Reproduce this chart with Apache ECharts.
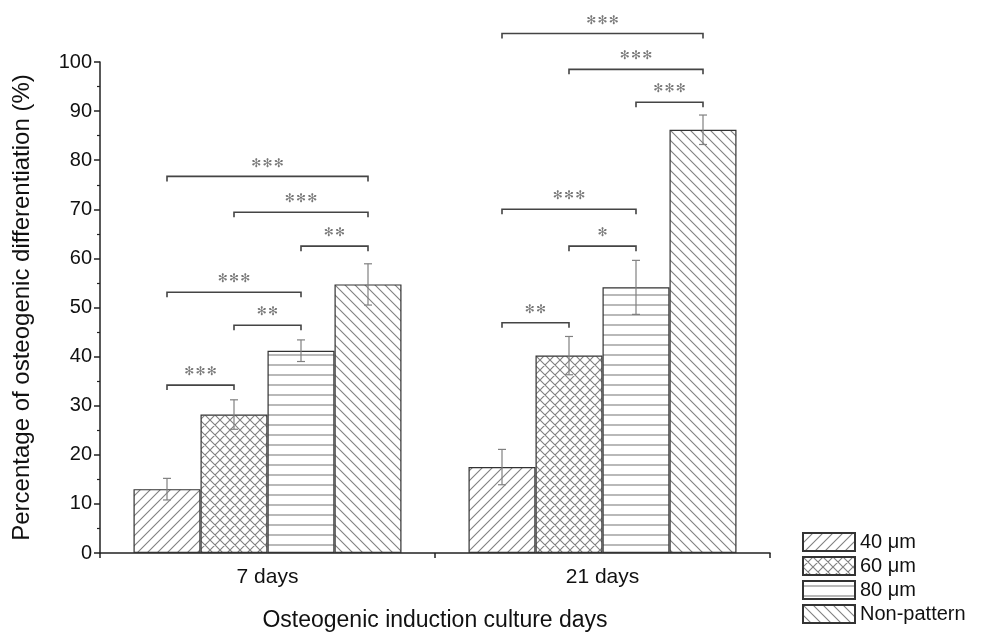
<!DOCTYPE html>
<html>
<head>
<meta charset="utf-8">
<script src="https://cdn.jsdelivr.net/npm/echarts@6/dist/echarts.min.js"></script>
<style>
  html, body { margin: 0; padding: 0; background: #fff; }
  #chart { width: 986px; height: 637px; }
</style>
</head>
<body>
<div id="chart"></div>
<script>
// Culture durations on the x axis
const categories = ['7 days', '21 days'];
// Pattern sizes (one bar series each)
const seriesNames = ['40 μm', '60 μm', '80 μm', 'Non-pattern'];
// Mean percentage per pattern, ordered as categories
const mean40 = [13.0, 17.5];
const mean60 = [28.2, 40.2];
const mean80 = [41.2, 54.1];
const meanNon = [54.7, 86.2];
// Standard deviations (error bar half-lengths)
const err40 = [2.2, 3.6];
const err60 = [3.0, 3.9];
const err80 = [2.2, 5.5];
const errNon = [4.2, 3.0];
// Significance comparisons: [category, first series, second series, bracket height, stars]
const brackets = [
  [0, 0, 1, 34.2, '***'],
  [0, 1, 2, 46.4, '**'],
  [0, 0, 2, 53.1, '***'],
  [0, 2, 3, 62.5, '**'],
  [0, 1, 3, 69.4, '***'],
  [0, 0, 3, 76.7, '***'],
  [1, 0, 1, 46.9, '**'],
  [1, 1, 2, 62.5, '*'],
  [1, 0, 2, 70.0, '***'],
  [1, 2, 3, 91.8, '***'],
  [1, 1, 3, 98.5, '***'],
  [1, 0, 3, 105.8, '***']
];
// Axis ticks
const yMin = 0, yMax = 100, yStep = 10;

const means = [mean40, mean60, mean80, meanNon];
const errs = [err40, err60, err80, errNon];

// Hatch fill tiles
function hatch(kind) {
  const s = 10;
  const c = document.createElement('canvas');
  c.width = s; c.height = s;
  const g = c.getContext('2d');
  g.fillStyle = '#fff';
  g.fillRect(0, 0, s, s);
  g.strokeStyle = '#808080';
  g.lineWidth = 1.1;
  g.beginPath();
  const fwd = () => {
    g.moveTo(-s, s * 2); g.lineTo(s * 2, -s);
    g.moveTo(-s, s); g.lineTo(s, -s);
    g.moveTo(0, s * 2); g.lineTo(s * 2, 0);
  };
  const back = () => {
    g.moveTo(-s, -s); g.lineTo(s * 2, s * 2);
    g.moveTo(-s, 0); g.lineTo(s, s * 2);
    g.moveTo(0, -s); g.lineTo(s * 2, s);
  };
  if (kind === 'fwd') fwd();
  if (kind === 'back') back();
  if (kind === 'cross') { fwd(); back(); }
  if (kind === 'horiz') { g.moveTo(0, s / 2); g.lineTo(s, s / 2); }
  g.stroke();
  return { image: c, repeat: 'repeat' };
}
const fills = [hatch('fwd'), hatch('cross'), hatch('horiz'), hatch('back')];

const nSeries = seriesNames.length;
const catGap = 0.2;

function barX(api, cat, s) {
  const center = api.coord([cat, 0])[0];
  const band = api.size([1, 0])[0];
  const bw = band * (1 - catGap) / nSeries;
  return center + (s - (nSeries - 1) / 2) * bw;
}

const errData = [];
means.forEach((arr, s) => arr.forEach((m, c) => errData.push([c, m, errs[s][c], s])));

const font = "'Liberation Sans', Arial, sans-serif";

const barSeries = seriesNames.map((name, s) => ({
  name: name,
  type: 'bar',
  data: means[s],
  barGap: '0%',
  barCategoryGap: (catGap * 100) + '%',
  itemStyle: { color: fills[s], borderColor: '#333', borderWidth: 1.2 },
  emphasis: { disabled: true },
  animation: false
}));

const errorSeries = {
  type: 'custom',
  data: errData,
  encode: { x: 0, y: 1 },
  z: 5,
  silent: true,
  animation: false,
  renderItem: function (params, api) {
    const c = api.value(0), m = api.value(1), e = api.value(2), s = api.value(3);
    const x = barX(api, c, s);
    const yHi = api.coord([c, m + e])[1];
    const yLo = api.coord([c, m - e])[1];
    const cap = 4;
    const st = { stroke: '#808080', lineWidth: 1.2 };
    return {
      type: 'group',
      children: [
        { type: 'line', shape: { x1: x, y1: yHi, x2: x, y2: yLo }, style: st },
        { type: 'line', shape: { x1: x - cap, y1: yHi, x2: x + cap, y2: yHi }, style: st },
        { type: 'line', shape: { x1: x - cap, y1: yLo, x2: x + cap, y2: yLo }, style: st }
      ]
    };
  }
};

const bracketSeries = {
  type: 'custom',
  data: brackets,
  encode: { x: 0, y: 3 },
  clip: false,
  silent: true,
  animation: false,
  z: 6,
  renderItem: function (params, api) {
    const b = brackets[params.dataIndex];
    const c = b[0];
    const x1 = barX(api, c, b[1]);
    const x2 = barX(api, c, b[2]);
    const y = api.coord([c, b[3]])[1];
    const drop = 5;
    return {
      type: 'group',
      children: [
        {
          type: 'polyline',
          shape: { points: [[x1, y + drop], [x1, y], [x2, y], [x2, y + drop]] },
          style: { stroke: '#444', lineWidth: 1.6, fill: null }
        },
        {
          type: 'text',
          style: {
            x: (x1 + x2) / 2, y: y - 13,
            text: b[4].replace(/\*/g, '\u273B').split('').join('\u200A'),
            fill: '#777',
            font: "12px 'DejaVu Sans', sans-serif",
            align: 'center', verticalAlign: 'middle'
          }
        }
      ]
    };
  }
};

const chart = echarts.init(document.getElementById('chart'), null, { renderer: 'canvas' });
chart.setOption({
  backgroundColor: '#fff',
  animation: false,
  textStyle: { fontFamily: font },
  grid: { left: 100, right: 216, top: 62, bottom: 82 },
  legend: {
    orient: 'vertical',
    left: 797,
    top: 527,
    itemWidth: 52,
    itemHeight: 18,
    itemGap: 4,
    icon: 'rect',
    data: seriesNames,
    textStyle: { fontSize: 20, color: '#111', fontFamily: font, lineHeight: 20 },
    selectedMode: false
  },
  xAxis: [
    {
      type: 'category',
      data: categories,
      axisLine: { lineStyle: { color: '#222', width: 1.5 } },
      axisTick: { alignWithLabel: true, length: 8, lineStyle: { color: '#222', width: 1.5 } },
      axisLabel: { fontSize: 21, color: '#111', margin: 14, fontFamily: font },
      name: 'Osteogenic induction culture days',
      nameLocation: 'middle',
      nameGap: 56,
      nameTextStyle: { fontSize: 23, color: '#111', fontFamily: font }
    },
    {
      type: 'value',
      position: 'bottom',
      min: 0, max: 2, interval: 1,
      axisLine: { show: false },
      axisTick: { show: true, length: 5, lineStyle: { color: '#222', width: 1.5 } },
      axisLabel: { show: false },
      splitLine: { show: false }
    }
  ],
  yAxis: {
    type: 'value',
    min: yMin, max: yMax, interval: yStep,
    axisLine: { show: true, lineStyle: { color: '#222', width: 1.5 } },
    axisTick: { show: true, length: 6, lineStyle: { color: '#222', width: 1.5 } },
    minorTick: { show: true, splitNumber: 2, length: 3, lineStyle: { color: '#222', width: 1.2 } },
    splitLine: { show: false },
    axisLabel: { fontSize: 20, color: '#111', margin: 8, fontFamily: font },
    name: 'Percentage of osteogenic differentiation (%)',
    nameLocation: 'middle',
    nameGap: 66,
    nameTextStyle: { fontSize: 24, color: '#111', fontFamily: font }
  },
  series: barSeries.concat([errorSeries, bracketSeries])
});
</script>
</body>
</html>
